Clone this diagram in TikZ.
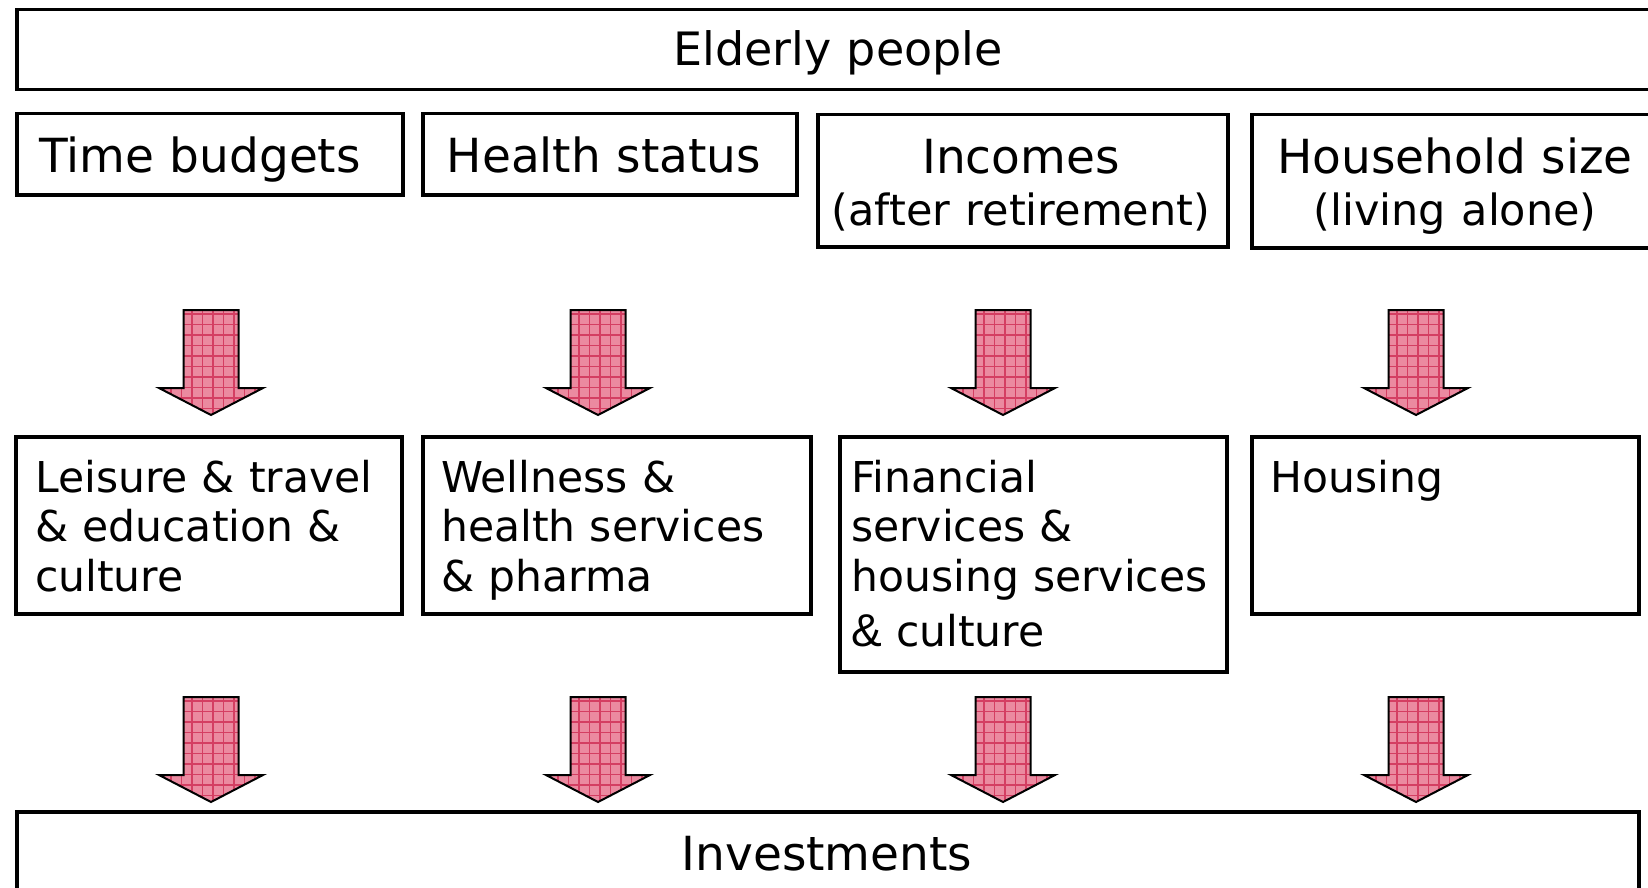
\documentclass[tikz,border=0pt]{standalone}
\usepackage{fontspec}
\setmainfont{DejaVu Sans}
\newfontfamily\amperfont{Liberation Sans}
\definecolor{arrowpink}{RGB}{235,138,160}
\definecolor{gridred}{RGB}{212,62,98}
\tikzset{
  box/.style={draw=black, line width=3.5pt, inner sep=0pt, anchor=north west},
  bigtxt/.style={font=\fontsize{47}{49}\selectfont, inner sep=0pt, anchor=base, text width=440pt, align=center},
  smalltxt/.style={font=\fontsize{42.5}{49.5}\selectfont, inner sep=0pt, anchor=base west, text width=400pt, align=left},
  blockarrow/.pic={
    \begin{scope}
      \path[clip] (-27.5,0) -- (27.5,0) -- (27.5,78) -- (52,78) -- (0,105) -- (-52,78) -- (-27.5,78) -- cycle;
      \fill[arrowpink] (-60,-5) rectangle (60,110);
      \foreach \i in {-5,...,5} \draw[gridred, line width=1.1pt] (\i*10.5+2,-5) -- (\i*10.5+2,110);
      \foreach \j in {0,...,10} \draw[gridred, line width=1.1pt] (-60,\j*10.5+4) -- (60,\j*10.5+4);
    \end{scope}
    \draw[black, line width=2pt, line join=miter] (-27.5,0) -- (27.5,0) -- (27.5,78) -- (52,78) -- (0,105) -- (-52,78) -- (-27.5,78) -- cycle;
  }
}
\newcommand{\subline}[1]{\\[3pt]{\fontsize{43}{49}\selectfont #1}}
\begin{document}
\begin{tikzpicture}[x=1pt, y=-1pt]
\useasboundingbox (0,0) rectangle (1648,888);
\clip (0,0) rectangle (1648,888);
\fill[white] (0,0) rectangle (1648,888);

% boxes
\node[box, minimum width=1646pt, minimum height=80pt] (elderly) at (15,8) {};
\node[box, minimum width=386pt, minimum height=81pt] (time) at (15,112) {};
\node[box, minimum width=374pt, minimum height=81pt] (health) at (421,112) {};
\node[box, minimum width=410pt, minimum height=132pt] (income) at (816,113) {};
\node[box, minimum width=410pt, minimum height=133pt] (household) at (1250,113) {};
\node[box, minimum width=386pt, minimum height=177pt] (leisure) at (14,435) {};
\node[box, minimum width=388pt, minimum height=177pt] (wellness) at (421,435) {};
\node[box, minimum width=387pt, minimum height=235pt] (financial) at (838,435) {};
\node[box, minimum width=387pt, minimum height=177pt] (housing) at (1250,435) {};
\node[box, minimum width=1622pt, minimum height=130pt] (invest) at (15,810) {};

% texts
\node[bigtxt, font=\fontsize{46}{49}\selectfont] (telderly) at (838,66) {Elderly people};
\node[bigtxt] (ttime) at (200,172) {Time budgets};
\node[bigtxt] (thealth) at (604,172) {Health status};
\node[bigtxt] (tincome) at (1021,173) {Incomes\subline{(after retirement)}};
\node[bigtxt] (thousehold) at (1455,173) {Household size\subline{(living alone)}};
\node[smalltxt] (tleisure) at (35,492) {Leisure \& travel\\\& education \&\\culture};
\node[smalltxt] (twellness) at (441,492) {Wellness \&\\health services\\\& pharma};
\node[smalltxt] (tfinancial) at (851,492) {Financial\\services \&\\housing services\\[6pt]{\amperfont\fontsize{46}{49.5}\selectfont\&} culture};
\node[smalltxt] (thousing) at (1270,492) {Housing};
\node[bigtxt] (tinvest) at (827,870) {Investments};

% block arrows
\foreach \cx in {211,598,1003,1416} {
  \pic at (\cx,310) {blockarrow};
  \pic at (\cx,697) {blockarrow};
}
\end{tikzpicture}
\end{document}
